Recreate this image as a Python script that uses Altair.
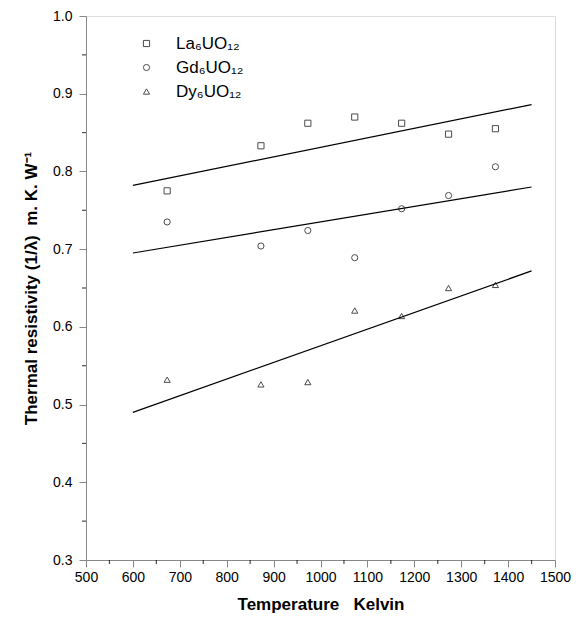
import altair as alt
import pandas as pd

temps = [673, 873, 973, 1073, 1173, 1273, 1373]
series = ["La₆UO₁₂", "Gd₆UO₁₂", "Dy₆UO₁₂"]
la_vals = [0.775, 0.833, 0.862, 0.870, 0.862, 0.848, 0.855]
gd_vals = [0.735, 0.704, 0.724, 0.689, 0.752, 0.769, 0.806]
dy_vals = [0.532, 0.526, 0.529, 0.621, 0.614, 0.650, 0.654]

fit_x = [600, 1450]
la_fit = [0.782, 0.886]
gd_fit = [0.695, 0.780]
dy_fit = [0.490, 0.672]

x_major = list(range(500, 1501, 100))
x_minor = list(range(550, 1500, 100))
y_major = [0.3, 0.4, 0.5, 0.6, 0.7, 0.8, 0.9, 1.0]
y_minor = [0.35, 0.45, 0.55, 0.65, 0.75, 0.85, 0.95]

rows = []
for name, vals in zip(series, [la_vals, gd_vals, dy_vals]):
    for t, v in zip(temps, vals):
        rows.append({"T": t, "R": v, "Compound": name})
pts = pd.DataFrame(rows)

frows = []
for name, vals in zip(series, [la_fit, gd_fit, dy_fit]):
    for t, v in zip(fit_x, vals):
        frows.append({"T": t, "R": v, "Compound": name})
fits = pd.DataFrame(frows)

W, H = 469, 544
font = "Liberation Sans"
NB = "\u00a0"

xscale = alt.Scale(domain=[500, 1500], nice=False, zero=False)
yscale = alt.Scale(domain=[0.3, 1.0], nice=False, zero=False)

xaxis = alt.Axis(
    title=f"Temperature{NB*3}Kelvin",
    values=x_major,
    format="d",
    tickSize=7,
    labelOverlap=False,
    labelFlush=False,
    grid=False,
    labelPadding=3,
    titlePadding=12,
    labelFontSize=14,
    titleFontSize=17,
)
yaxis = alt.Axis(
    title=f"Thermal resistivity (1/λ){NB*2}m. K. W⁻¹",
    values=y_major,
    format=".1f",
    tickSize=7,
    labelOverlap=False,
    labelFlush=False,
    grid=False,
    labelPadding=7,
    titlePadding=12,
    labelFontSize=14,
    titleFontSize=17,
)

points = alt.Chart(pts).mark_point(filled=False, color="black", size=38, strokeWidth=1).encode(
    x=alt.X("T:Q", scale=xscale, axis=xaxis),
    y=alt.Y("R:Q", scale=yscale, axis=yaxis),
    shape=alt.Shape(
        "Compound:N",
        sort=series,
        scale=alt.Scale(domain=series, range=["square", "circle", "triangle-up"]),
        legend=alt.Legend(
            title=None,
            orient="none",
            legendX=52,
            legendY=19,
            labelFontSize=17,
            labelFont=font,
            symbolSize=38,
            symbolStrokeColor="black",
            symbolFillColor="transparent",
            symbolStrokeWidth=1,
            rowPadding=6,
            labelOffset=21,
            padding=0,
        ),
    ),
)

lines = alt.Chart(fits).mark_line(color="black", strokeWidth=1.2).encode(
    x="T:Q",
    y="R:Q",
    detail="Compound:N",
)

xminor = alt.Chart(pd.DataFrame({"T": x_minor})).mark_tick(
    color="black", thickness=1.2, size=4, orient="vertical"
).encode(x=alt.X("T:Q", scale=xscale), y=alt.value(H + 2))

yminor = alt.Chart(pd.DataFrame({"R": y_minor})).mark_tick(
    color="black", thickness=1.2, size=4, orient="horizontal"
).encode(y=alt.Y("R:Q", scale=yscale), x=alt.value(-2))

chart = (
    alt.layer(lines, points, xminor, yminor)
    .properties(
        width=W,
        height=H,
        autosize=alt.AutoSizeParams(type="none"),
        padding={"left": 78, "top": 8, "right": 16, "bottom": 56},
    )
    .configure_view(stroke="black", strokeWidth=1.6)
    .configure_axis(
        domainColor="black",
        domainWidth=1.6,
        tickColor="black",
        tickWidth=1.2,
        labelColor="black",
        titleColor="black",
        labelFont=font,
        titleFont=font,
        titleFontWeight="bold",
    )
    .configure(background="white")
)

chart.save("out.html", embed_options={"renderer": "svg", "actions": False})
